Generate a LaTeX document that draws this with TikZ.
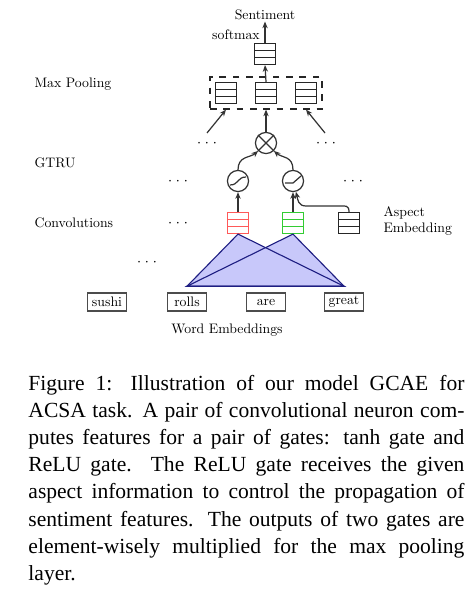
\documentclass[tikz,border=0pt]{standalone}
\usepackage{fontspec}
\newfontfamily\capfont{Liberation Serif}
\newfontfamily\figfont{lmroman10-regular}[Extension=.otf]
\usetikzlibrary{calc,fit,arrows.meta}
\definecolor{cfill}{RGB}{200,200,250}
\definecolor{cnavy}{RGB}{30,30,130}

\begin{document}
\begin{tikzpicture}[x=0.45pt, y=-0.45pt,
    >={Stealth[length=3pt,width=2.4pt]},
    lbl/.style={font=\figfont\fontsize{6.2}{7.6}\selectfont, inner sep=0.5pt},
    vec/.style={draw=#1, line width=0.5pt, minimum width=9.5pt, minimum height=9.5pt, inner sep=0,
                path picture={
                  \draw[#1, line width=0.5pt]
                    ($(path picture bounding box.north west)!1/3!(path picture bounding box.south west)$) --
                    ($(path picture bounding box.north east)!1/3!(path picture bounding box.south east)$)
                    ($(path picture bounding box.north west)!2/3!(path picture bounding box.south west)$) --
                    ($(path picture bounding box.north east)!2/3!(path picture bounding box.south east)$);
                }},
    vec/.default={black!85},
    word/.style={draw=black!70, line width=0.7pt, minimum width=17.5pt, minimum height=8.1pt,
                 inner sep=1.5pt, font=\figfont\fontsize{6.2}{7.6}\selectfont},
    gate/.style={draw=black!80, line width=0.55pt, circle, minimum size=9.5pt, inner sep=0},
    conn/.style={->, draw=black!80, line width=0.55pt},
  ]
  \useasboundingbox (0,0) rectangle (474,592);

  % layer names
  \node[lbl, anchor=west] (lpool) at (33,84) {Max Pooling};
  \node[lbl, anchor=west] (lgtru) at (33,163) {GTRU};
  \node[lbl, anchor=west] (lconv) at (33,223) {Convolutions};

  % output
  \node[lbl] (sent) at (265,15) {Sentiment};
  \node[lbl] (soft) at (236,35) {softmax};
  \node[vec] (sm) at (265,54) {};

  % pooling
  \node[vec] (p1) at (226,93) {};
  \node[vec] (p2) at (266,93) {};
  \node[vec] (p3) at (306,93) {};
  \node[draw=black!85, dashed, line width=0.55pt, fit=(p1)(p3), inner sep=2.2pt] (pool) {};

  % gates
  \node[gate] (mul) at (266,143) {};
  \draw[black!80, line width=0.55pt] (mul.45) -- (mul.225) (mul.135) -- (mul.-45);
  \node[gate] (g1) at (238,181) {};
  \draw[black!80, line width=0.55pt] ($(g1)+(-8,4)$) .. controls ($(g1)+(1,4)$) and ($(g1)+(-1,-4)$) .. ($(g1)+(8,-4)$);
  \node[gate] (g2) at (293,181) {};
  \draw[black!80, line width=0.55pt] ($(g2)+(-8,2)$) -- ($(g2)+(0,2)$) -- ($(g2)+(8,-5)$);

  % convolutions
  \node[vec=red!65] (c1) at (238,223) {};
  \node[vec=green!75!black!80] (c2) at (293,223) {};
  \node[vec] (asp) at (349,223) {};
  \node[lbl, anchor=west, align=left] (lasp) at (382,221) {Aspect\\Embedding};

  % dots
  \node[lbl] (d1) at (207,143) {$\cdots$};
  \node[lbl] (d2) at (326,143) {$\cdots$};
  \node[lbl] (d3) at (178,181) {$\cdots$};
  \node[lbl] (d4) at (353,181) {$\cdots$};
  \node[lbl] (d5) at (178,223) {$\cdots$};
  \node[lbl] (d6) at (147,262) {$\cdots$};

  % words
  \node[word] (w1) at (107,302) {sushi};
  \node[word] (w2) at (187,302) {rolls};
  \node[word] (w3) at (266,302) {are};
  \node[word] (w4) at (344,302) {great};
  \node[lbl] (lemb) at (227,330) {Word Embeddings};

  % windows
  \coordinate (b1) at ($(w2.north)+(0,-6)$);
  \coordinate (b2) at ($(w4.north)+(0,-6)$);
  \fill[cfill] (c1.south) -- (b1) -- (b2) -- cycle;
  \fill[cfill] (c2.south) -- (b1) -- (b2) -- cycle;
  \draw[cnavy, line width=0.5pt] (c1.south) -- (b1) -- (b2) -- cycle;
  \draw[cnavy, line width=0.5pt] (c2.south) -- (b1) -- (b2) -- cycle;

  % connections
  \draw[conn] (sm.north) -- (sent.south);
  \draw[conn] (p2.north) -- (sm.south);
  \coordinate (la) at (207,133);
  \coordinate (ra) at (325,133);
  \draw[conn] (la) -- (p1.south |- pool.south);
  \draw[conn] (ra) -- (p3.south |- pool.south);
  \draw[conn] (mul.north) -- (pool.south);
  \draw[conn] (g1.north) .. controls +(0,-14) and +(-8,7) .. (mul.-135);
  \draw[conn] (g2.north) .. controls +(0,-14) and +(8,7) .. (mul.-45);
  \draw[conn] (c1.north) -- (g1.south);
  \draw[conn] (c2.north) -- (g2.south);
  \coordinate (a1) at (340,206);
  \coordinate (a2) at (306,206);
  \draw[conn] (asp.north) .. controls +(0,-7) and +(5,0) .. (a1) -- (a2) .. controls +(-8,0) and +(2,8) .. (g2.-75);

  % caption
  \node[anchor=base west, inner sep=0, text width=196.2pt, align=justify,
        font=\capfont\fontsize{9.7}{12.25}\selectfont] (cap) at (28,390) {%
    Figure 1: Illustration of our model GCAE for\linebreak
    ACSA task. A pair of convolutional neuron com-\linebreak
    putes features for a pair of gates: tanh gate and\linebreak
    ReLU gate. The ReLU gate receives the given\linebreak
    aspect information to control the propagation of\linebreak
    sentiment features. The outputs of two gates are\linebreak
    element-wisely multiplied for the max pooling\linebreak
    layer.};
\end{tikzpicture}
\end{document}
